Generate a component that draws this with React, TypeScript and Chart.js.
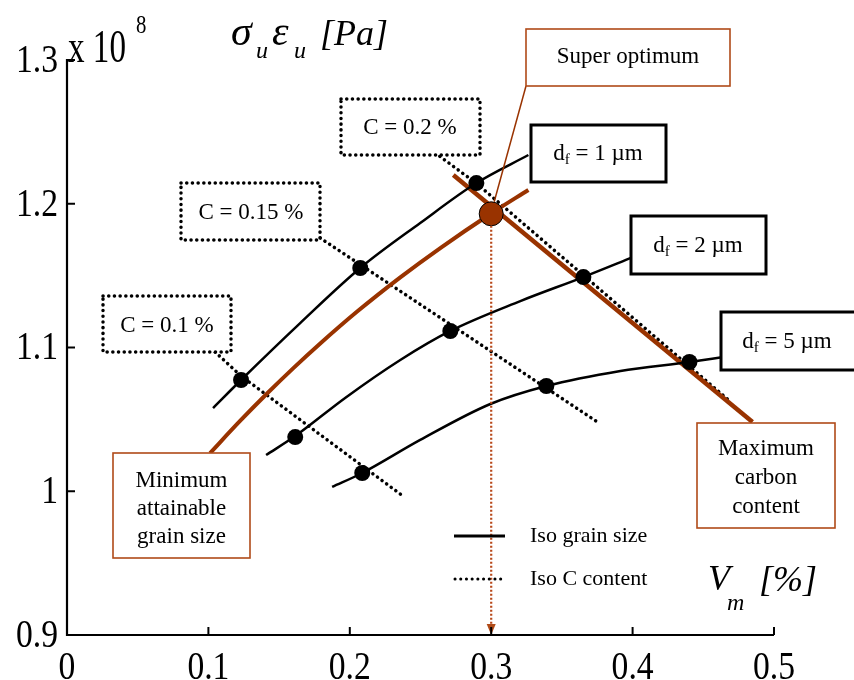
import React, { useEffect, useRef } from 'react';
import { Chart, registerables } from 'chart.js';
Chart.register(...registerables);

// ---- Axis ticks ----
const xTicks = [0, 0.1, 0.2, 0.3, 0.4, 0.5];
const xTickLabels = ['0', '0.1', '0.2', '0.3', '0.4', '0.5'];
const yTicks = [0.9, 1.0, 1.1, 1.2, 1.3];
const yTickLabels = ['0.9', '1', '1.1', '1.2', '1.3'];

// ---- Iso grain size curves (Vm [%], sigma*eps [x1e8 Pa]) ----
const df1Vm = [0.1033, 0.1231, 0.1649, 0.2074, 0.2498, 0.2895, 0.3263];
const df1Val = [1.0579, 1.0774, 1.117, 1.1553, 1.1866, 1.2144, 1.2339];
const df2Vm = [0.1408, 0.1614, 0.1967, 0.2357, 0.2711, 0.3206, 0.3652, 0.4006];
const df2Val = [1.0252, 1.0384, 1.0649, 1.0913, 1.1115, 1.1323, 1.149, 1.163];
const df5Vm = [0.1875, 0.2088, 0.2498, 0.2994, 0.339, 0.3914, 0.4402, 0.4643];
const df5Val = [1.003, 1.0127, 1.0357, 1.0607, 1.0732, 1.0837, 1.0899, 1.0934];

// ---- Iso C content lines ----
const c01Vm = [0.1047, 0.1231, 0.2385];
const c01Val = [1.0969, 1.0802, 0.996];
const c015Vm = [0.179, 0.3751];
const c015Val = [1.1762, 1.0482];
const c02Vm = [0.2604, 0.2902, 0.4678];
const c02Val = [1.2353, 1.2137, 1.0635];

// ---- Bounds ----
const minGrainVm = [0.1012, 0.1224, 0.1415, 0.1599, 0.1791, 0.2052, 0.2357, 0.264, 0.2994, 0.3263];
const minGrainVal = [1.0266, 1.0489, 1.068, 1.0855, 1.1028, 1.125, 1.1488, 1.1692, 1.1929, 1.2096];
const maxCarbonVm = [0.2732, 0.4848];
const maxCarbonVal = [1.22, 1.0482];

// ---- Computed points ----
const markerVm = [0.1231, 0.2074, 0.2895, 0.1614, 0.2711, 0.3652, 0.2088, 0.339, 0.4402];
const markerVal = [1.0774, 1.1553, 1.2144, 1.0377, 1.1115, 1.149, 1.0127, 1.0732, 1.0899];
const superVm = [0.3];
const superVal = [1.193];

const ORANGE = '#993300';
const BOX_ORANGE = '#b04a18';
const SERIF = '"Liberation Serif", "Times New Roman", Times, serif';

const pts = (xs: number[], ys: number[]) => xs.map((x, i) => ({ x, y: ys[i] }));

type TxtOpt = { align?: CanvasTextAlign; italic?: boolean; sx?: number; baseline?: CanvasTextBaseline; color?: string };
function txt(ctx: CanvasRenderingContext2D, s: string, x: number, y: number, size: number, o: TxtOpt = {}) {
  ctx.save();
  ctx.font = `${o.italic ? 'italic ' : ''}${size}px ${SERIF}`;
  ctx.fillStyle = o.color || '#000';
  ctx.textBaseline = o.baseline || 'alphabetic';
  ctx.textAlign = o.align || 'left';
  ctx.translate(x, y);
  ctx.scale(o.sx || 1, 1);
  ctx.fillText(s, 0, 0);
  ctx.restore();
}

type Run = { t: string; size: number; dy?: number };
function runs(ctx: CanvasRenderingContext2D, rs: Run[], cx: number, by: number) {
  ctx.save();
  let total = 0;
  const widths = rs.map(r => {
    ctx.font = `${r.size}px ${SERIF}`;
    const w = ctx.measureText(r.t).width;
    total += w;
    return w;
  });
  let x = cx - total / 2;
  ctx.fillStyle = '#000';
  ctx.textBaseline = 'alphabetic';
  ctx.textAlign = 'left';
  rs.forEach((r, i) => {
    ctx.font = `${r.size}px ${SERIF}`;
    ctx.fillText(r.t, x, by + (r.dy || 0));
    x += widths[i];
  });
  ctx.restore();
}

function box(ctx: CanvasRenderingContext2D, x1: number, y1: number, x2: number, y2: number, kind: 'solid' | 'dotted' | 'orange') {
  ctx.save();
  ctx.fillStyle = '#fff';
  ctx.fillRect(x1, y1, x2 - x1, y2 - y1);
  if (kind === 'solid') {
    ctx.strokeStyle = '#000';
    ctx.lineWidth = 3;
  } else if (kind === 'dotted') {
    ctx.strokeStyle = '#000';
    ctx.lineWidth = 3.5;
    ctx.lineCap = 'round';
    ctx.setLineDash([0.1, 5.6]);
  } else {
    ctx.strokeStyle = BOX_ORANGE;
    ctx.lineWidth = 1.6;
  }
  ctx.strokeRect(x1, y1, x2 - x1, y2 - y1);
  ctx.restore();
}

const decor = {
  id: 'decor',
  afterDatasetsDraw(chart: any) {
    const ctx: CanvasRenderingContext2D = chart.ctx;
    const xs = chart.scales.x;
    const ys = chart.scales.y;
    const { bottom } = chart.chartArea;

    // vertical dotted arrow from super optimum to axis
    const sx = xs.getPixelForValue(superVm[0]);
    const sy = ys.getPixelForValue(superVal[0]);
    ctx.save();
    ctx.strokeStyle = '#b8481a';
    ctx.lineWidth = 2.2;
    ctx.setLineDash([2, 2]);
    ctx.beginPath();
    ctx.moveTo(sx, sy + 12);
    ctx.lineTo(sx, bottom - 9);
    ctx.stroke();
    ctx.setLineDash([]);
    ctx.fillStyle = '#b04a18';
    ctx.beginPath();
    ctx.moveTo(sx, bottom);
    ctx.lineTo(sx - 4.5, bottom - 11);
    ctx.lineTo(sx + 4.5, bottom - 11);
    ctx.closePath();
    ctx.fill();
    ctx.restore();

    // arrow from "Super optimum" box to point
    ctx.save();
    ctx.strokeStyle = ORANGE;
    ctx.lineWidth = 1.5;
    ctx.beginPath();
    ctx.moveTo(526, 86);
    ctx.lineTo(sx + 3, sy - 12);
    ctx.stroke();
    ctx.restore();

    // legend
    ctx.save();
    ctx.strokeStyle = '#000';
    ctx.lineWidth = 3;
    ctx.beginPath();
    ctx.moveTo(454, 536);
    ctx.lineTo(505, 536);
    ctx.stroke();
    ctx.lineCap = 'round';
    ctx.lineWidth = 3;
    ctx.setLineDash([0.1, 5.6]);
    ctx.beginPath();
    ctx.moveTo(455, 579);
    ctx.lineTo(505, 579);
    ctx.stroke();
    ctx.restore();
    txt(ctx, 'Iso grain size', 530, 542, 22);
    txt(ctx, 'Iso C content', 530, 585, 22);

    // annotation boxes
    box(ctx, 526, 29, 730, 86, 'orange');
    txt(ctx, 'Super optimum', 628, 63, 23, { align: 'center' });

    box(ctx, 531, 125, 666, 182, 'solid');
    runs(ctx, [{ t: 'd', size: 23 }, { t: 'f', size: 15, dy: 4 }, { t: ' = 1 µm', size: 23 }], 598, 160);
    box(ctx, 631, 216, 766, 274, 'solid');
    runs(ctx, [{ t: 'd', size: 23 }, { t: 'f', size: 15, dy: 4 }, { t: ' = 2 µm', size: 23 }], 698, 252);
    box(ctx, 721, 312, 858, 370, 'solid');
    runs(ctx, [{ t: 'd', size: 23 }, { t: 'f', size: 15, dy: 4 }, { t: ' = 5 µm', size: 23 }], 787, 348);

    box(ctx, 341, 99, 480, 155, 'dotted');
    txt(ctx, 'C = 0.2 %', 410, 134, 23, { align: 'center' });
    box(ctx, 181, 183, 320, 240, 'dotted');
    txt(ctx, 'C = 0.15 %', 251, 219, 23, { align: 'center' });
    box(ctx, 103, 296, 231, 352, 'dotted');
    txt(ctx, 'C = 0.1 %', 167, 332, 23, { align: 'center' });

    box(ctx, 113, 453, 250, 558, 'orange');
    txt(ctx, 'Minimum', 181.5, 487, 23, { align: 'center' });
    txt(ctx, 'attainable', 181.5, 515, 23, { align: 'center' });
    txt(ctx, 'grain size', 181.5, 543, 23, { align: 'center' });

    box(ctx, 697, 423, 835, 528, 'orange');
    txt(ctx, 'Maximum', 766, 455, 23, { align: 'center' });
    txt(ctx, 'carbon', 766, 484, 23, { align: 'center' });
    txt(ctx, 'content', 766, 513, 23, { align: 'center' });
  },
  afterDraw(chart: any) {
    const ctx: CanvasRenderingContext2D = chart.ctx;
    const xs = chart.scales.x;
    const ys = chart.scales.y;
    const { left, right, top, bottom } = chart.chartArea;

    // axes
    ctx.save();
    ctx.strokeStyle = '#000';
    ctx.lineWidth = 2.2;
    ctx.beginPath();
    ctx.moveTo(left, top - 1);
    ctx.lineTo(left, bottom);
    ctx.lineTo(right, bottom);
    ctx.stroke();
    ctx.lineWidth = 2;
    xTicks.forEach(v => {
      const p = xs.getPixelForValue(v);
      ctx.beginPath();
      ctx.moveTo(p, bottom);
      ctx.lineTo(p, bottom - 8);
      ctx.stroke();
    });
    yTicks.forEach(v => {
      const p = ys.getPixelForValue(v);
      ctx.beginPath();
      ctx.moveTo(left, p);
      ctx.lineTo(left + 8, p);
      ctx.stroke();
    });
    ctx.restore();

    // tick labels
    xTicks.forEach((v, i) => {
      txt(ctx, xTickLabels[i], xs.getPixelForValue(v), 679, 41, { align: 'center', sx: 0.82 });
    });
    yTicks.forEach((v, i) => {
      txt(ctx, yTickLabels[i], left - 9, ys.getPixelForValue(v) + 1, 41, { align: 'right', sx: 0.82, baseline: 'middle' });
    });

    // exponent
    txt(ctx, 'x 10', 68, 62, 46, { sx: 0.72 });
    txt(ctx, '8', 136, 33, 26, { sx: 0.8 });

    // y title
    txt(ctx, 'σ', 231, 45, 42, { italic: true });
    txt(ctx, 'u', 256, 58, 24, { italic: true });
    txt(ctx, 'ε', 272, 45, 42, { italic: true });
    txt(ctx, 'u', 294, 58, 24, { italic: true });
    txt(ctx, '[Pa]', 320, 45, 36, { italic: true });

    // x title
    txt(ctx, 'V', 708, 590, 36, { italic: true });
    txt(ctx, 'm', 727, 610, 24, { italic: true });
    txt(ctx, '[%]', 759, 591, 36, { italic: true });
  },
};

const lineBase = { pointRadius: 0, fill: false, showLine: true };

export default function App() {
  const ref = useRef<HTMLCanvasElement>(null);
  useEffect(() => {
    const canvas = ref.current!;
    const chart = new Chart(canvas, {
      type: 'line',
      data: {
        datasets: [
          { ...lineBase, label: 'Super optimum', data: pts(superVm, superVal), showLine: false, pointRadius: 12, pointBackgroundColor: ORANGE, pointBorderColor: '#000', pointBorderWidth: 1 },
          { ...lineBase, label: 'Computed', data: pts(markerVm, markerVal), showLine: false, pointRadius: 8, pointBackgroundColor: '#000', pointBorderColor: '#000', pointBorderWidth: 0 },
          { ...lineBase, label: 'df1', data: pts(df1Vm, df1Val), borderColor: '#000', borderWidth: 2.5, cubicInterpolationMode: 'monotone' },
          { ...lineBase, label: 'df2', data: pts(df2Vm, df2Val), borderColor: '#000', borderWidth: 2.5, cubicInterpolationMode: 'monotone' },
          { ...lineBase, label: 'df5', data: pts(df5Vm, df5Val), borderColor: '#000', borderWidth: 2.5, cubicInterpolationMode: 'monotone' },
          { ...lineBase, label: 'Max carbon', data: pts(maxCarbonVm, maxCarbonVal), borderColor: ORANGE, borderWidth: 4.5 },
          { ...lineBase, label: 'Min grain', data: pts(minGrainVm, minGrainVal), borderColor: ORANGE, borderWidth: 4, cubicInterpolationMode: 'monotone' },
          { ...lineBase, label: 'C=0.1', data: pts(c01Vm, c01Val), borderColor: '#000', borderWidth: 3.5, borderDash: [0.1, 5.6], borderCapStyle: 'round' },
          { ...lineBase, label: 'C=0.15', data: pts(c015Vm, c015Val), borderColor: '#000', borderWidth: 3.5, borderDash: [0.1, 5.6], borderCapStyle: 'round' },
          { ...lineBase, label: 'C=0.2', data: pts(c02Vm, c02Val), borderColor: '#000', borderWidth: 3.5, borderDash: [0.1, 5.6], borderCapStyle: 'round' },
        ] as any,
      },
      options: {
        animation: false,
        responsive: false,
        devicePixelRatio: 1,
        layout: { padding: { left: 0, top: 60, right: 80, bottom: 0 } },
        plugins: { legend: { display: false }, tooltip: { enabled: false } },
        events: [],
        scales: {
          x: {
            type: 'linear', min: 0, max: 0.5,
            grid: { display: false }, border: { display: false },
            ticks: { display: false },
            afterBuildTicks: (s: any) => { s.ticks = xTicks.map(v => ({ value: v })); },
            afterFit: (s: any) => { s.height = 45; },
          },
          y: {
            type: 'linear', min: 0.9, max: 1.3,
            grid: { display: false }, border: { display: false },
            ticks: { display: false },
            afterBuildTicks: (s: any) => { s.ticks = yTicks.map(v => ({ value: v })); },
            afterFit: (s: any) => { s.width = 67; },
          },
        },
      } as any,
      plugins: [decor],
    });
    return () => chart.destroy();
  }, []);
  return (
    <div style={{ position: 'absolute', left: 0, top: 0, width: 854, height: 680, background: '#fff' }}>
      <canvas ref={ref} width={854} height={680} style={{ display: 'block', width: 854, height: 680 }} />
    </div>
  );
}
